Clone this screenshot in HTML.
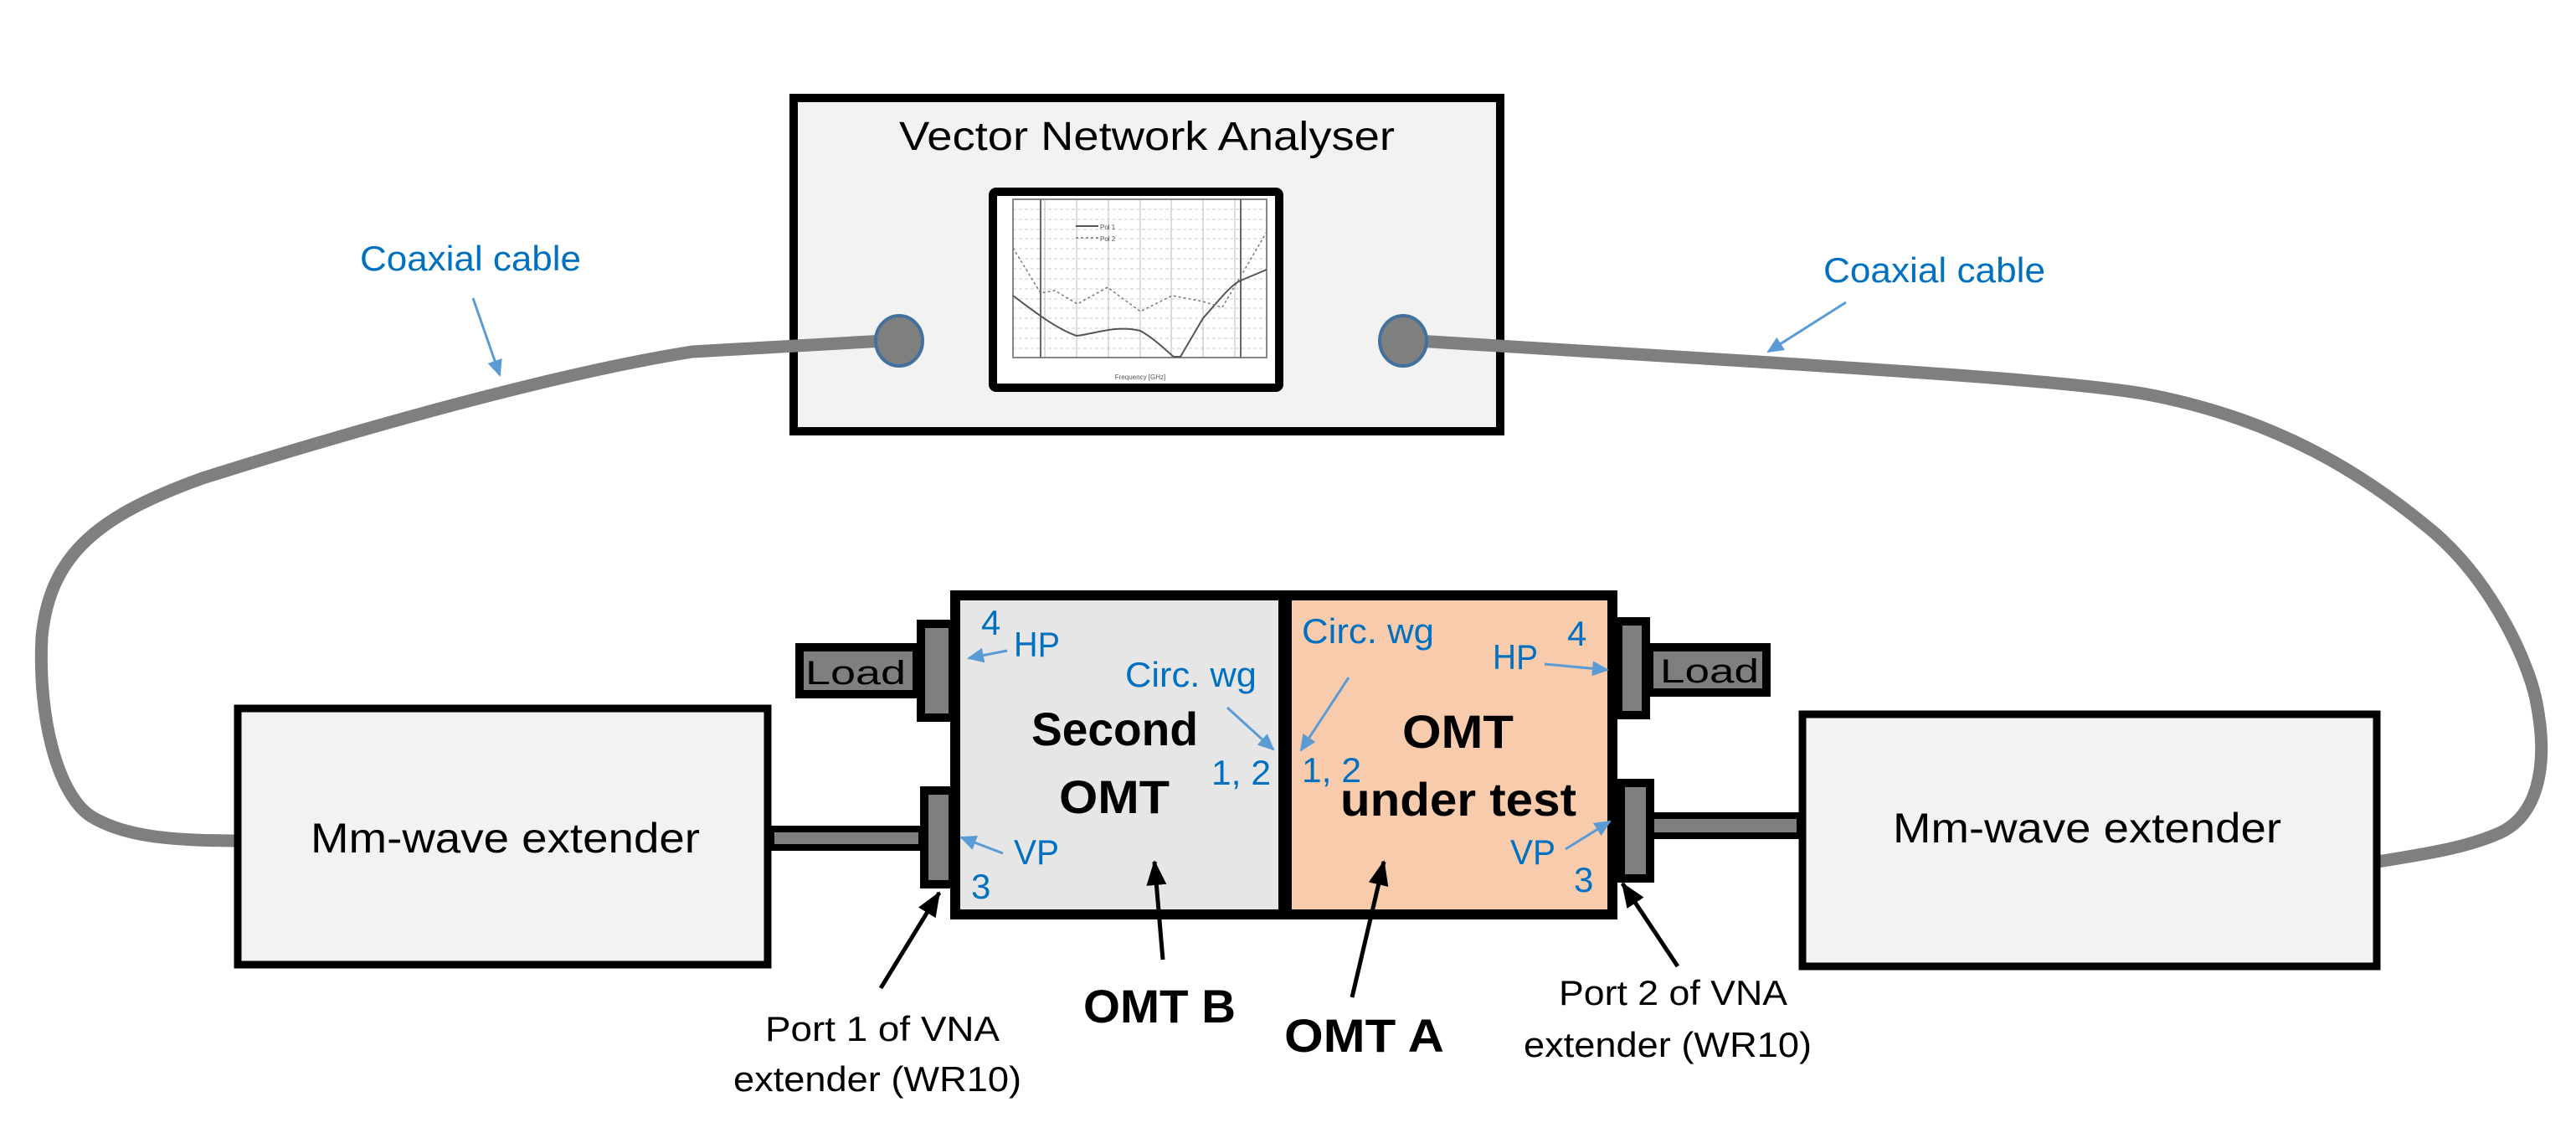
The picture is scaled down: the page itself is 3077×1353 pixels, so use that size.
<!DOCTYPE html>
<html><head><meta charset="utf-8"><style>html,body{margin:0;padding:0;background:#fff}svg{display:block}</style></head>
<body>
<svg width="3077" height="1353" viewBox="0 0 3077 1353" xmlns="http://www.w3.org/2000/svg" font-family="'Liberation Sans', sans-serif">
<defs>
<marker id="ab" markerWidth="20" markerHeight="18" refX="18" refY="9" orient="auto" markerUnits="userSpaceOnUse" viewBox="0 0 20 18"><path d="M0,0 L20,9 L0,18 Z" fill="#5b9bd5"/></marker>
<marker id="ak" markerWidth="30" markerHeight="24" refX="28" refY="12" orient="auto" viewBox="0 0 30 24" markerUnits="userSpaceOnUse"><path d="M0,0 L30,12 L0,24 Z" fill="#000"/></marker>
</defs>
<style>
.bl{fill:#0070c0;font-size:42px}
.ba{stroke:#5b9bd5;stroke-width:3;fill:none}
</style>

<!-- VNA -->
<rect x="948" y="117" width="844" height="398" fill="#f2f2f2" stroke="#000" stroke-width="10"/>
<text x="1370" y="179" font-size="48" text-anchor="middle" textLength="592" lengthAdjust="spacingAndGlyphs">Vector Network Analyser</text>
<rect x="1186" y="229" width="342" height="234" fill="#fff" stroke="#000" stroke-width="10" rx="4"/>
<g stroke="#ccc" stroke-width="1" stroke-dasharray="4,3">
<path d="M1210,250 H1513 M1210,262 H1513 M1210,274 H1513 M1210,285 H1513 M1210,297 H1513 M1210,309 H1513 M1210,321 H1513 M1210,333 H1513 M1210,345 H1513 M1210,357 H1513 M1210,368 H1513 M1210,380 H1513 M1210,392 H1513 M1210,404 H1513 M1210,416 H1513"/>
</g>
<g stroke="#bbb" stroke-width="1">
<path d="M1248,238 V427 M1286,238 V427 M1324,238 V427 M1362,238 V427 M1399,238 V427 M1437,238 V427 M1475,238 V427"/>
</g>
<rect x="1210" y="238" width="303" height="189" fill="none" stroke="#888" stroke-width="2"/>
<path d="M1243,238 V427 M1482,238 V427" stroke="#666" stroke-width="2"/>
<path d="M1210,353 C1230,368 1260,392 1286,401 C1310,398 1335,388 1362,395 C1380,405 1392,418 1402,426 L1410,426 L1437,380 C1455,360 1470,340 1482,335 L1513,322" stroke="#555" stroke-width="2" fill="none"/>
<path d="M1210,296 L1243,350 L1260,347 L1287,363 L1323,343 L1362,372 L1400,353 L1437,360 L1460,367 L1482,330 L1513,277" stroke="#777" stroke-width="1.5" stroke-dasharray="3,3" fill="none"/>
<path d="M1285,270 H1312" stroke="#555" stroke-width="2"/>
<path d="M1285,284 H1312" stroke="#777" stroke-width="1.5" stroke-dasharray="3,3"/>
<text x="1314" y="274" font-size="8" fill="#555">Pol 1</text>
<text x="1314" y="288" font-size="8" fill="#555">Pol 2</text>
<text x="1362" y="453" font-size="8" fill="#555" text-anchor="middle">Frequency [GHz]</text>

<!-- cables -->
<path d="M1074,406 L827,420 C700,440 500,490 242,571 C120,615 60,660 50,760 C45,860 70,950 109,975 C150,1000 210,1004 285,1004" stroke="#7f7f7f" stroke-width="15" fill="none"/>
<path d="M1676,406 L2100,432 C2300,445 2474,456 2560,470 C2723,500 2830,570 2910,638 C2980,700 3022,795 3030,840 C3045,917 3030,975 2985,995 C2940,1015 2880,1022 2835,1030" stroke="#7f7f7f" stroke-width="15" fill="none"/>
<ellipse cx="1074" cy="407" rx="28" ry="30" fill="#7f7f7f" stroke="#41719c" stroke-width="4"/>
<ellipse cx="1676" cy="407" rx="28" ry="30" fill="#7f7f7f" stroke="#41719c" stroke-width="4"/>

<!-- Coaxial labels -->
<text x="430" y="323" class="bl" textLength="264" lengthAdjust="spacingAndGlyphs">Coaxial cable</text>
<line x1="565" y1="356" x2="597" y2="448" class="ba" marker-end="url(#ab)"/>
<text x="2178" y="337" class="bl" textLength="265" lengthAdjust="spacingAndGlyphs">Coaxial cable</text>
<line x1="2205" y1="361" x2="2112" y2="420" class="ba" marker-end="url(#ab)"/>

<!-- extenders -->
<rect x="284" y="846" width="633" height="306" fill="#f2f2f2" stroke="#000" stroke-width="9"/>
<text x="371" y="1018" font-size="50" textLength="465" lengthAdjust="spacingAndGlyphs">Mm-wave extender</text>
<rect x="2153" y="853" width="686" height="301" fill="#f2f2f2" stroke="#000" stroke-width="9"/>
<text x="2261" y="1006" font-size="50" textLength="464" lengthAdjust="spacingAndGlyphs">Mm-wave extender</text>

<!-- waveguide bars -->
<rect x="921" y="990" width="180" height="22" fill="#7f7f7f" stroke="#000" stroke-width="8"/>
<rect x="1972" y="974" width="178" height="24" fill="#7f7f7f" stroke="#000" stroke-width="8"/>

<!-- loads -->
<rect x="955" y="773" width="140" height="56" fill="#7f7f7f" stroke="#000" stroke-width="10"/>
<text x="962" y="817" font-size="40" textLength="120" lengthAdjust="spacingAndGlyphs">Load</text>
<rect x="1970" y="773" width="140" height="54" fill="#7f7f7f" stroke="#000" stroke-width="10"/>
<text x="1983" y="815" font-size="40" textLength="118" lengthAdjust="spacingAndGlyphs">Load</text>

<!-- flanges -->
<rect x="1100" y="745" width="38" height="112" fill="#7f7f7f" stroke="#000" stroke-width="10"/>
<rect x="1104" y="944" width="34" height="112" fill="#7f7f7f" stroke="#000" stroke-width="10"/>
<rect x="1933" y="742" width="33" height="112" fill="#7f7f7f" stroke="#000" stroke-width="10"/>
<rect x="1936" y="935" width="35" height="114" fill="#7f7f7f" stroke="#000" stroke-width="10"/>

<!-- OMT box -->
<rect x="1141" y="711" width="394" height="381" fill="#e6e6e6"/>
<rect x="1535" y="711" width="391" height="381" fill="#f8cbad"/>
<rect x="1141" y="711" width="785" height="381" fill="none" stroke="#000" stroke-width="12"/>
<line x1="1535" y1="711" x2="1535" y2="1092" stroke="#000" stroke-width="16"/>

<text x="1232" y="890" font-size="56" font-weight="bold" textLength="199" lengthAdjust="spacingAndGlyphs">Second</text>
<text x="1265" y="971" font-size="56" font-weight="bold" textLength="132" lengthAdjust="spacingAndGlyphs">OMT</text>
<text x="1675" y="893" font-size="56" font-weight="bold" textLength="133" lengthAdjust="spacingAndGlyphs">OMT</text>
<text x="1601" y="974" font-size="56" font-weight="bold" textLength="282" lengthAdjust="spacingAndGlyphs">under test</text>

<!-- blue labels -->
<text x="1172" y="758" class="bl">4</text>
<text x="1211" y="784" class="bl" textLength="55" lengthAdjust="spacingAndGlyphs">HP</text>
<line x1="1203" y1="777" x2="1157" y2="786" class="ba" marker-end="url(#ab)"/>
<text x="1344" y="820" class="bl" textLength="157" lengthAdjust="spacingAndGlyphs">Circ. wg</text>
<line x1="1466" y1="845" x2="1521" y2="895" class="ba" marker-end="url(#ab)"/>
<text x="1447" y="937" class="bl" textLength="71" lengthAdjust="spacingAndGlyphs">1, 2</text>
<text x="1211" y="1032" class="bl" textLength="54" lengthAdjust="spacingAndGlyphs">VP</text>
<text x="1160" y="1073" class="bl">3</text>
<line x1="1198" y1="1019" x2="1148" y2="1000" class="ba" marker-end="url(#ab)"/>

<text x="1555" y="768" class="bl" textLength="158" lengthAdjust="spacingAndGlyphs">Circ. wg</text>
<line x1="1611" y1="809" x2="1554" y2="896" class="ba" marker-end="url(#ab)"/>
<text x="1555" y="934" class="bl" textLength="71" lengthAdjust="spacingAndGlyphs">1, 2</text>
<text x="1872" y="771" class="bl">4</text>
<text x="1783" y="799" class="bl" textLength="54" lengthAdjust="spacingAndGlyphs">HP</text>
<line x1="1845" y1="793" x2="1920" y2="800" class="ba" marker-end="url(#ab)"/>
<text x="1804" y="1032" class="bl" textLength="54" lengthAdjust="spacingAndGlyphs">VP</text>
<text x="1880" y="1065" class="bl">3</text>
<line x1="1870" y1="1014" x2="1923" y2="981" class="ba" marker-end="url(#ab)"/>

<!-- black arrows -->
<g stroke="#000" stroke-width="5" fill="none">
<line x1="1389" y1="1146" x2="1379" y2="1029" marker-end="url(#ak)"/>
<line x1="1615" y1="1191" x2="1653" y2="1029" marker-end="url(#ak)"/>
<line x1="1052" y1="1180" x2="1122" y2="1066" marker-end="url(#ak)"/>
<line x1="2004" y1="1154" x2="1938" y2="1055" marker-end="url(#ak)"/>
</g>

<text x="1294" y="1221" font-size="56" font-weight="bold" textLength="182" lengthAdjust="spacingAndGlyphs">OMT B</text>
<text x="1534" y="1256" font-size="56" font-weight="bold" textLength="191" lengthAdjust="spacingAndGlyphs">OMT A</text>

<text x="914" y="1243" font-size="42" textLength="280" lengthAdjust="spacingAndGlyphs">Port 1 of VNA</text>
<text x="876" y="1303" font-size="42" textLength="344" lengthAdjust="spacingAndGlyphs">extender (WR10)</text>
<text x="1862" y="1200" font-size="42" textLength="273" lengthAdjust="spacingAndGlyphs">Port 2 of VNA</text>
<text x="1820" y="1262" font-size="42" textLength="344" lengthAdjust="spacingAndGlyphs">extender (WR10)</text>
</svg>
</body></html>
